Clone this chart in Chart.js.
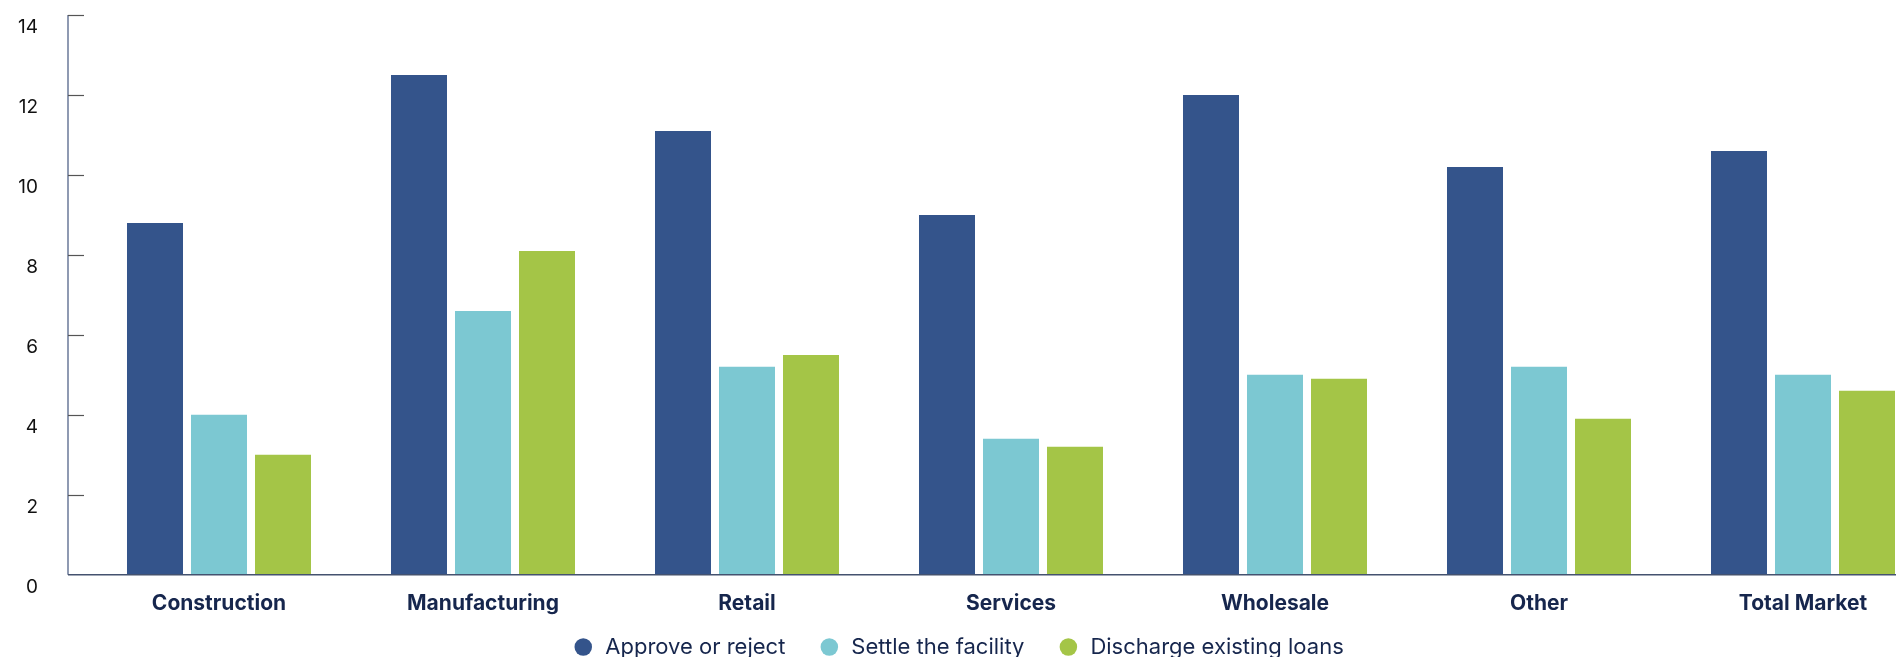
<!DOCTYPE html>
<html>
<head>
<meta charset="utf-8">
<script src="https://cdn.jsdelivr.net/npm/chart.js"></script>
<style>
  html, body { margin: 0; padding: 0; background: #fff; overflow: hidden; }
  #wrap { width: 1935px; height: 657px; }
</style>
</head>
<body>
<div id="wrap"><canvas id="myChart"></canvas></div>
<script>
const categories = ['Construction', 'Manufacturing', 'Retail', 'Services', 'Wholesale', 'Other', 'Total Market'];
const seriesNames = ['Approve or reject', 'Settle the facility', 'Discharge existing loans'];
const approve = [8.8, 12.5, 11.1, 9.0, 12.0, 10.2, 10.6];
const settle = [4.0, 6.6, 5.2, 3.4, 5.0, 5.2, 5.0];
const discharge = [3.0, 8.1, 5.5, 3.2, 4.9, 3.9, 4.6];
const yTicks = [0, 2, 4, 6, 8, 10, 12, 14];

const colours = ['#34548b', '#7cc8d2', '#a4c547'];
const navy = '#16264d';

Chart.defaults.font.family = 'Inter, Lato, sans-serif';

// axis lines sit a little left of the first category, ticks point inwards
const axisLines = {
  id: 'axisLines',
  afterLayout(chart) {
    // pull the legend row up so it overlaps the bottom edge like the original
    if (chart.legend) {
      chart.legend.top -= 29;
      chart.legend.bottom -= 29;
    }
  },
  afterDatasetsDraw(chart) {
    const { ctx, chartArea, scales } = chart;
    const y = scales.y;
    const x0 = chartArea.left - 19;
    ctx.save();
    ctx.lineWidth = 1.5;
    ctx.strokeStyle = '#6a7898';
    ctx.beginPath();
    ctx.moveTo(x0, y.getPixelForValue(yTicks[yTicks.length - 1]));
    ctx.lineTo(x0, chartArea.bottom);
    ctx.stroke();
    ctx.strokeStyle = '#44526f';
    ctx.beginPath();
    ctx.moveTo(x0, chartArea.bottom);
    ctx.lineTo(chart.width, chartArea.bottom);
    ctx.stroke();
    ctx.lineWidth = 1.2;
    ctx.strokeStyle = '#555';
    yTicks.slice(1).forEach(v => {
      const py = Math.round(y.getPixelForValue(v)) + 0.5;
      ctx.beginPath();
      ctx.moveTo(x0, py);
      ctx.lineTo(x0 + 16, py);
      ctx.stroke();
    });
    ctx.restore();
  }
};

new Chart(document.getElementById('myChart'), {
  type: 'bar',
  data: {
    labels: categories,
    datasets: [
      { label: seriesNames[0], data: approve, backgroundColor: colours[0] },
      { label: seriesNames[1], data: settle, backgroundColor: colours[1] },
      { label: seriesNames[2], data: discharge, backgroundColor: colours[2] }
    ]
  },
  options: {
    responsive: true,
    maintainAspectRatio: false,
    animation: false,
    categoryPercentage: 0.7273,
    barPercentage: 0.875,
    layout: { padding: { left: -19, right: 0, top: 15, bottom: -40 } },
    plugins: {
      tooltip: { enabled: false },
      legend: {
        position: 'bottom',
        labels: {
          usePointStyle: true,
          pointStyle: 'circle',
          boxHeight: 12.4,
          padding: 33,
          color: navy,
          font: { size: 22 }
        }
      }
    },
    scales: {
      x: {
        grid: { display: false, drawTicks: false },
        border: { display: false },
        ticks: {
          color: navy,
          padding: 16,
          font: { size: 21, weight: 'bold' }
        }
      },
      y: {
        min: 0,
        max: 14,
        grid: { display: true, drawOnChartArea: false, tickLength: 46, color: 'rgba(0,0,0,0)' },
        border: { display: false },
        afterFit(scale) { scale.width = 106; },
        ticks: {
          stepSize: 2,
          padding: 3,
          labelOffset: 12,
          color: '#111',
          font: { size: 19 }
        }
      }
    }
  },
  plugins: [axisLines]
});
</script>
</body>
</html>
